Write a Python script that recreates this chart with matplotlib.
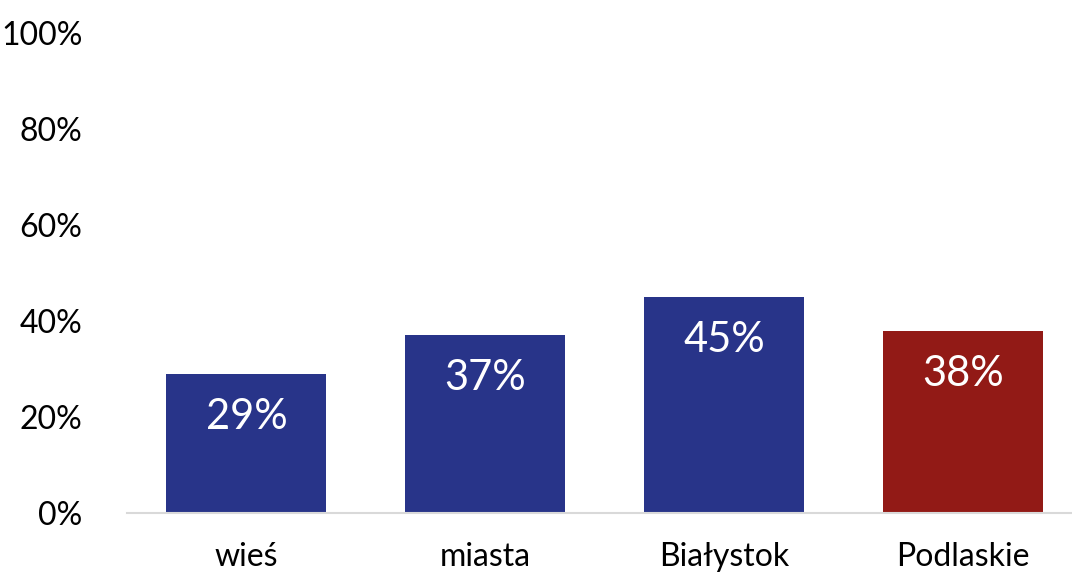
import matplotlib.pyplot as plt

categories = ['wieś', 'miasta', 'Białystok', 'Podlaskie']
values = [29, 37, 45, 38]
colors = ['#283489', '#283489', '#283489', '#921A16']

plt.rcParams['font.family'] = ['Lato', 'DejaVu Sans']

fig = plt.figure(figsize=(10.72, 5.72), dpi=100)
ax = fig.add_axes([127 / 1072, 59 / 572, 1 - 127 / 1072, 480 / 572])

x = range(len(categories))
bars = ax.bar(x, values, width=0.67, color=colors)

# value labels inside the bars
for b, v in zip(bars, values):
    ax.annotate(f'{v}%', (b.get_x() + b.get_width() / 2, v),
                xytext=(0, -43), textcoords='offset pixels',
                ha='center', va='center', color='white', fontsize=30)

ax.set_xlim(-0.5, 3.456)
ax.set_ylim(0, 100)
ax.set_yticks([0, 20, 40, 60, 80, 100])
ax.set_yticklabels([f'{t}%' for t in [0, 20, 40, 60, 80, 100]], fontsize=23)
ax.set_xticks(list(x))
ax.set_xticklabels(categories, fontsize=23)
ax.tick_params(length=0)
ax.tick_params(axis='y', pad=32)
ax.tick_params(axis='x', pad=21)

for s in ['top', 'right', 'left']:
    ax.spines[s].set_visible(False)
ax.spines['bottom'].set_color('#d9d9d9')
ax.spines['bottom'].set_linewidth(1.5)

fig.savefig('out.png', dpi=100)
